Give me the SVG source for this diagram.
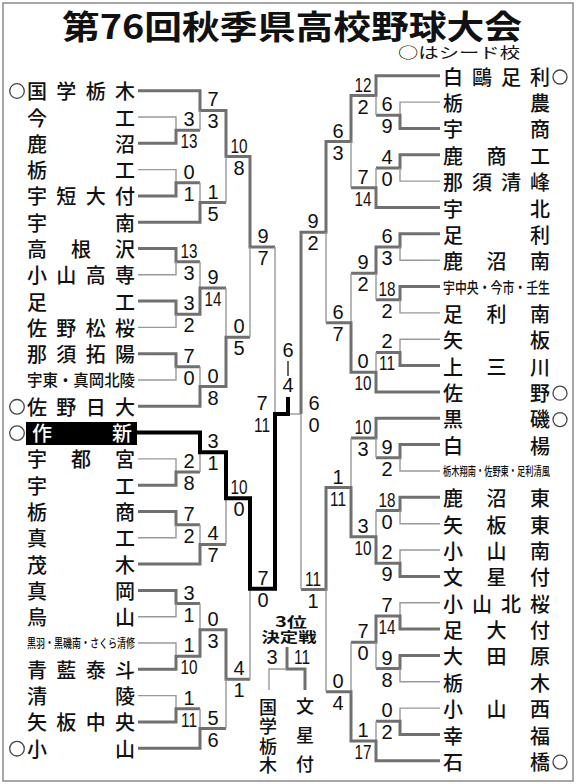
<svg xmlns="http://www.w3.org/2000/svg" width="576" height="784" viewBox="0 0 576 784">
<style>
.n{font-family:"Noto Sans CJK JP","Noto Sans",sans-serif;font-size:20px;font-weight:500;fill:#111}
.v{font-family:"Noto Sans CJK JP","Noto Sans",sans-serif;font-size:18px;font-weight:500;fill:#111;text-anchor:middle}
.s{font-family:"Liberation Sans",Arial,sans-serif;font-size:20px;fill:#111;text-anchor:middle}
.w{fill:none;stroke:#707070;stroke-width:3}
.l{fill:none;stroke:#999;stroke-width:1.4}
.c{fill:none;stroke:#000;stroke-width:4}
.seed{fill:none;stroke:#444;stroke-width:1.3}
.h{font-family:"Noto Sans CJK JP",sans-serif;font-weight:700;fill:#111}
</style>
<rect x="3" y="3" width="570" height="778" fill="#fff" stroke="#8a8a8a" stroke-width="1.5"/>
<text class="h" x="292" y="39" text-anchor="middle" textLength="460" lengthAdjust="spacingAndGlyphs" style="font-size:33px">第76回秋季県高校野球大会</text>
<text x="398" y="58" textLength="122" lengthAdjust="spacingAndGlyphs" style="font-family:'Noto Sans CJK JP',sans-serif;font-size:15px;fill:#111">○はシード校</text>

<g id="connectors">
<path class="w" d="M138,90.7H200V110.4H226V156.45H250V246.9H275"/><path class="l" d="M275,246.9V414"/>
<path class="l" d="M138,117H176V130.15"/>
<path class="w" d="M138,143.3H176V130.15H200"/><path class="l" d="M200,130.15V110.4"/>
<path class="l" d="M138,169.6H176V182.75"/>
<path class="w" d="M138,195.9H176V182.75H200"/><path class="l" d="M200,182.75V202.5"/>
<path class="w" d="M138,222.2H200V202.5H226"/><path class="l" d="M226,202.5V156.45"/>
<path class="w" d="M138,248.5H176V261.65H200"/><path class="l" d="M200,261.65V287.95"/>
<path class="l" d="M138,274.8H176V261.65"/>
<path class="w" d="M138,301.1H176V314.25H200V287.95H226"/><path class="l" d="M226,287.95V337.3"/>
<path class="l" d="M138,327.4H176V314.25"/>
<path class="w" d="M138,353.7H176V366.85H200"/><path class="l" d="M200,366.85V386.6"/>
<path class="l" d="M138,380H176V366.85"/>
<path class="w" d="M138,406.3H200V386.6H226V337.3H250"/><path class="l" d="M250,337.3V246.9"/>
<path class="l" d="M138,458.9H176V472.05"/>
<path class="w" d="M138,485.2H176V472.05H200"/><path class="l" d="M200,472.05V452.3"/>
<path class="w" d="M138,511.5H176V524.65H200"/><path class="l" d="M200,524.65V544.4"/>
<path class="l" d="M138,537.8H176V524.65"/>
<path class="w" d="M138,564.1H200V544.4H226"/><path class="l" d="M226,544.4V498.35"/>
<path class="w" d="M138,590.4H176V603.55H200"/><path class="l" d="M200,603.55V629.85"/>
<path class="l" d="M138,616.7H176V603.55"/>
<path class="l" d="M138,643H176V656.15"/>
<path class="w" d="M138,669.3H176V656.15H200V629.85H226V679.2H250"/><path class="l" d="M250,679.2V588.8"/>
<path class="l" d="M138,695.6H176V708.75"/>
<path class="w" d="M138,721.9H176V708.75H200"/><path class="l" d="M200,708.75V728.5"/>
<path class="w" d="M138,748.2H200V728.5H226"/><path class="l" d="M226,728.5V679.2"/>

<path class="w" d="M440,75.7H376V95.5H351V141.6H326V232.2H301V414"/><path class="l" d="M301,414H288"/>
<path class="l" d="M440,102.1H400V115.25"/>
<path class="w" d="M440,128.4H400V115.25H376"/><path class="l" d="M376,115.25V95.5"/>
<path class="w" d="M440,154.8H400V167.95H376"/><path class="l" d="M376,167.95V187.7"/>
<path class="l" d="M440,181.1H400V167.95"/>
<path class="w" d="M440,207.5H376V187.7H351"/><path class="l" d="M351,187.7V141.6"/>
<path class="w" d="M440,233.8H400V247H376V273.35H351"/><path class="l" d="M351,273.35V322.75"/>
<path class="l" d="M440,260.2H400V247"/>
<path class="w" d="M440,286.5H400V299.7H376"/><path class="l" d="M376,299.7V273.35"/>
<path class="l" d="M440,312.9H400V299.7"/>
<path class="l" d="M440,339.2H400V352.4"/>
<path class="w" d="M440,365.6H400V352.4H376"/><path class="l" d="M376,352.4V372.15"/>
<path class="w" d="M440,391.9H376V372.15H351V322.75H326"/><path class="l" d="M326,322.75V232.2"/>
<path class="w" d="M440,418.3H376V438.05H351"/><path class="l" d="M351,438.05V487.45"/>
<path class="w" d="M440,444.6H400V457.8H376"/><path class="l" d="M376,457.8V438.05"/>
<path class="l" d="M440,471H400V457.8"/>
<path class="w" d="M440,497.3H400V510.5H376"/><path class="l" d="M376,510.5V536.85"/>
<path class="l" d="M440,523.7H400V510.5"/>
<path class="l" d="M440,550H400V563.2"/>
<path class="w" d="M440,576.4H400V563.2H376V536.85H351V487.45H326V589.55H301"/><path class="l" d="M301,589.55V414"/>
<path class="l" d="M440,602.7H400V615.9"/>
<path class="w" d="M440,629.1H400V615.9H376V642.25H351"/><path class="l" d="M351,642.25V691.65"/>
<path class="w" d="M440,655.4H400V668.6H376"/><path class="l" d="M376,668.6V642.25"/>
<path class="l" d="M440,681.8H400V668.6"/>
<path class="l" d="M440,708.1H400V721.3"/>
<path class="w" d="M440,734.5H400V721.3H376"/><path class="l" d="M376,721.3V741.05"/>
<path class="w" d="M440,760.8H376V741.05H351V691.65H326"/><path class="l" d="M326,691.65V589.55"/>

<path class="c" d="M137,432.6H200V452.3H226V498.35H250V588.8H275V414H288V397"/>
<path d="M288,361V376" fill="none" stroke="#000" stroke-width="1.2"/>

<path class="w" d="M287,647V669H305V690"/>
<path class="l" d="M287,669H269V690"/>
</g>

<g id="scores" class="s">
<text x="189" y="126.2">3</text><text x="189" y="148.2" textLength="17" lengthAdjust="spacingAndGlyphs">13</text>
<text x="213" y="106.4">7</text><text x="213" y="128.4">3</text>
<text x="189" y="178.8">0</text><text x="189" y="200.8">1</text>
<text x="213" y="198.5">1</text><text x="213" y="220.5">5</text>
<text x="239" y="152.5" textLength="17" lengthAdjust="spacingAndGlyphs">10</text><text x="239" y="174.5">8</text>
<text x="189" y="257.7" textLength="17" lengthAdjust="spacingAndGlyphs">13</text><text x="189" y="279.7">3</text>
<text x="189" y="310.3">3</text><text x="189" y="332.3">2</text>
<text x="213" y="284">9</text><text x="213" y="306" textLength="17" lengthAdjust="spacingAndGlyphs">14</text>
<text x="189" y="362.9">7</text><text x="189" y="384.9">0</text>
<text x="213" y="382.6">0</text><text x="213" y="404.6">8</text>
<text x="239" y="333.3">0</text><text x="239" y="355.3">5</text>
<text x="263" y="242.9">9</text><text x="263" y="264.9">7</text>
<text x="189" y="468.1">2</text><text x="189" y="490.1">8</text>
<text x="213" y="448.3">3</text><text x="213" y="470.3">1</text>
<text x="189" y="520.7">7</text><text x="189" y="542.7">2</text>
<text x="213" y="540.4">4</text><text x="213" y="562.4">7</text>
<text x="239" y="494.4" textLength="17" lengthAdjust="spacingAndGlyphs">10</text><text x="239" y="516.4">0</text>
<text x="189" y="599.6">3</text><text x="189" y="621.6">1</text>
<text x="189" y="652.2">1</text><text x="189" y="674.2" textLength="17" lengthAdjust="spacingAndGlyphs">10</text>
<text x="213" y="625.9">0</text><text x="213" y="647.9">3</text>
<text x="189" y="704.8">1</text><text x="189" y="726.8" textLength="16" lengthAdjust="spacingAndGlyphs">11</text>
<text x="213" y="724.5">5</text><text x="213" y="746.5">6</text>
<text x="239" y="675.2">4</text><text x="239" y="697.2">1</text>
<text x="263" y="584.8">7</text><text x="263" y="606.8">0</text>
<text x="262" y="410">7</text><text x="262" y="432" textLength="16" lengthAdjust="spacingAndGlyphs">11</text>

<text x="387" y="111.3">6</text><text x="387" y="133.3">9</text>
<text x="363" y="91.5" textLength="17" lengthAdjust="spacingAndGlyphs">12</text><text x="363" y="113.5">2</text>
<text x="387" y="164">4</text><text x="387" y="186">0</text>
<text x="363" y="183.7">7</text><text x="363" y="205.7" textLength="17" lengthAdjust="spacingAndGlyphs">14</text>
<text x="338" y="137.6">6</text><text x="338" y="159.6">3</text>
<text x="387" y="243">6</text><text x="387" y="265">3</text>
<text x="387" y="295.7" textLength="17" lengthAdjust="spacingAndGlyphs">18</text><text x="387" y="317.7">2</text>
<text x="363" y="269.4">9</text><text x="363" y="291.4">2</text>
<text x="387" y="348.4">2</text><text x="387" y="370.4" textLength="16" lengthAdjust="spacingAndGlyphs">11</text>
<text x="363" y="368.2">0</text><text x="363" y="390.2" textLength="17" lengthAdjust="spacingAndGlyphs">10</text>
<text x="338" y="318.8">6</text><text x="338" y="340.8">7</text>
<text x="313" y="228.2">9</text><text x="313" y="250.2">2</text>
<text x="387" y="453.8">9</text><text x="387" y="475.8">2</text>
<text x="363" y="434.1" textLength="17" lengthAdjust="spacingAndGlyphs">10</text><text x="363" y="456.1">3</text>
<text x="387" y="506.5" textLength="17" lengthAdjust="spacingAndGlyphs">18</text><text x="387" y="528.5">0</text>
<text x="387" y="559.2">2</text><text x="387" y="581.2">9</text>
<text x="363" y="532.9">3</text><text x="363" y="554.9" textLength="17" lengthAdjust="spacingAndGlyphs">10</text>
<text x="338" y="483.5">1</text><text x="338" y="505.5" textLength="16" lengthAdjust="spacingAndGlyphs">11</text>
<text x="387" y="611.9">7</text><text x="387" y="633.9" textLength="17" lengthAdjust="spacingAndGlyphs">14</text>
<text x="387" y="664.6">9</text><text x="387" y="686.6">8</text>
<text x="363" y="638.3">7</text><text x="363" y="660.3">0</text>
<text x="387" y="717.3">0</text><text x="387" y="739.3">2</text>
<text x="363" y="737.1">1</text><text x="363" y="759.1" textLength="17" lengthAdjust="spacingAndGlyphs">17</text>
<text x="338" y="687.7">0</text><text x="338" y="709.7">4</text>
<text x="313" y="585.6" textLength="16" lengthAdjust="spacingAndGlyphs">11</text><text x="313" y="607.6">1</text>
<text x="314" y="410">6</text><text x="314" y="432">0</text>

<text x="288" y="357">6</text><text x="288" y="392">4</text>
<text x="272" y="664">3</text><text x="302" y="664" textLength="16" lengthAdjust="spacingAndGlyphs">11</text>
</g>

<g id="third-place-label">
<text class="h" x="291" y="627" text-anchor="middle" textLength="32" lengthAdjust="spacingAndGlyphs" style="font-size:14px">3位</text>
<text class="h" x="289" y="642" text-anchor="middle" textLength="55" lengthAdjust="spacingAndGlyphs" style="font-size:14px">決定戦</text>
</g>
<g id="third-kokugakutochigi">
<text class="v" x="268" y="713.5">国</text><text class="v" x="268" y="733">学</text><text class="v" x="268" y="752.5">栃</text><text class="v" x="268" y="772">木</text>
</g>
<g id="third-bunseifu">
<text class="v" x="305" y="712.5">文</text><text class="v" x="305" y="741.5">星</text><text class="v" x="305" y="770.5">付</text>
</g>

<g id="L01"><circle class="seed" cx="17" cy="91" r="7.3"/><text class="n" x="27" y="99.2" textLength="108" lengthAdjust="spacing">国学栃木</text></g>
<g id="L02"><text class="n" x="27" y="125.5" textLength="108" lengthAdjust="spacing">今工</text></g>
<g id="L03"><text class="n" x="27" y="151.8" textLength="108" lengthAdjust="spacing">鹿沼</text></g>
<g id="L04"><text class="n" x="27" y="178.1" textLength="108" lengthAdjust="spacing">栃工</text></g>
<g id="L05"><text class="n" x="27" y="204.4" textLength="108" lengthAdjust="spacing">宇短大付</text></g>
<g id="L06"><text class="n" x="27" y="230.7" textLength="108" lengthAdjust="spacing">宇南</text></g>
<g id="L07"><text class="n" x="27" y="257" textLength="108" lengthAdjust="spacing">高根沢</text></g>
<g id="L08"><text class="n" x="27" y="283.3" textLength="108" lengthAdjust="spacing">小山高専</text></g>
<g id="L09"><text class="n" x="27" y="309.6" textLength="108" lengthAdjust="spacing">足工</text></g>
<g id="L10"><text class="n" x="27" y="335.9" textLength="108" lengthAdjust="spacing">佐野松桜</text></g>
<g id="L11"><text class="n" x="27" y="362.2" textLength="108" lengthAdjust="spacing">那須拓陽</text></g>
<g id="L12"><text class="n" x="81" y="386.3" text-anchor="middle" textLength="108" lengthAdjust="spacingAndGlyphs" style="font-size:16px">宇東・真岡北陵</text></g>
<g id="L13"><circle class="seed" cx="17" cy="406.8" r="7.3"/><text class="n" x="27" y="414.8" textLength="108" lengthAdjust="spacing">佐野日大</text></g>
<g id="L14"><circle class="seed" cx="17" cy="433.1" r="7.3"/><rect x="26" y="422" width="111" height="23" fill="#000"/><text class="n" x="32" y="441.1" textLength="100" lengthAdjust="spacing" style="fill:#fff">作新</text></g>
<g id="L15"><text class="n" x="27" y="467.4" textLength="108" lengthAdjust="spacing">宇都宮</text></g>
<g id="L16"><text class="n" x="27" y="493.7" textLength="108" lengthAdjust="spacing">宇工</text></g>
<g id="L17"><text class="n" x="27" y="520" textLength="108" lengthAdjust="spacing">栃商</text></g>
<g id="L18"><text class="n" x="27" y="546.3" textLength="108" lengthAdjust="spacing">真工</text></g>
<g id="L19"><text class="n" x="27" y="572.6" textLength="108" lengthAdjust="spacing">茂木</text></g>
<g id="L20"><text class="n" x="27" y="598.9" textLength="108" lengthAdjust="spacing">真岡</text></g>
<g id="L21"><text class="n" x="27" y="625.2" textLength="108" lengthAdjust="spacing">烏山</text></g>
<g id="L22"><text class="n" x="81" y="648.3" text-anchor="middle" textLength="108" lengthAdjust="spacingAndGlyphs" style="font-size:12.5px">黒羽・黒磯南・さくら清修</text></g>
<g id="L23"><text class="n" x="27" y="677.8" textLength="108" lengthAdjust="spacing">青藍泰斗</text></g>
<g id="L24"><text class="n" x="27" y="704.1" textLength="108" lengthAdjust="spacing">清陵</text></g>
<g id="L25"><text class="n" x="27" y="730.4" textLength="108" lengthAdjust="spacing">矢板中央</text></g>
<g id="L26"><circle class="seed" cx="17" cy="748.7" r="7.3"/><text class="n" x="27" y="756.7" textLength="108" lengthAdjust="spacing">小山</text></g>

<g id="R01"><circle class="seed" cx="560" cy="77" r="7"/><text class="n" x="443" y="84.7" textLength="107" lengthAdjust="spacing">白鷗足利</text></g>
<g id="R02"><text class="n" x="443" y="111.1" textLength="107" lengthAdjust="spacing">栃農</text></g>
<g id="R03"><text class="n" x="443" y="137.4" textLength="107" lengthAdjust="spacing">宇商</text></g>
<g id="R04"><text class="n" x="443" y="163.8" textLength="107" lengthAdjust="spacing">鹿商工</text></g>
<g id="R05"><text class="n" x="443" y="190.1" textLength="107" lengthAdjust="spacing">那須清峰</text></g>
<g id="R06"><text class="n" x="443" y="216.5" textLength="107" lengthAdjust="spacing">宇北</text></g>
<g id="R07"><text class="n" x="443" y="242.8" textLength="107" lengthAdjust="spacing">足利</text></g>
<g id="R08"><text class="n" x="443" y="269.2" textLength="107" lengthAdjust="spacing">鹿沼南</text></g>
<g id="R09"><text class="n" x="550" y="292.8" text-anchor="end" textLength="107" lengthAdjust="spacingAndGlyphs" style="font-size:15px">宇中央・今市・壬生</text></g>
<g id="R10"><text class="n" x="443" y="321.9" textLength="107" lengthAdjust="spacing">足利南</text></g>
<g id="R11"><text class="n" x="443" y="348.2" textLength="107" lengthAdjust="spacing">矢板</text></g>
<g id="R12"><text class="n" x="443" y="374.6" textLength="107" lengthAdjust="spacing">上三川</text></g>
<g id="R13"><circle class="seed" cx="560" cy="393.2" r="7"/><text class="n" x="443" y="400.9" textLength="107" lengthAdjust="spacing">佐野</text></g>
<g id="R14"><circle class="seed" cx="560" cy="419.6" r="7"/><text class="n" x="443" y="427.3" textLength="107" lengthAdjust="spacing">黒磯</text></g>
<g id="R15"><text class="n" x="443" y="453.6" textLength="107" lengthAdjust="spacing">白楊</text></g>
<g id="R16"><text class="n" x="550" y="476.3" text-anchor="end" textLength="107" lengthAdjust="spacingAndGlyphs" style="font-size:12.5px">栃木翔南・佐野東・足利清風</text></g>
<g id="R17"><text class="n" x="443" y="506.3" textLength="107" lengthAdjust="spacing">鹿沼東</text></g>
<g id="R18"><text class="n" x="443" y="532.7" textLength="107" lengthAdjust="spacing">矢板東</text></g>
<g id="R19"><text class="n" x="443" y="559" textLength="107" lengthAdjust="spacing">小山南</text></g>
<g id="R20"><text class="n" x="443" y="585.4" textLength="107" lengthAdjust="spacing">文星付</text></g>
<g id="R21"><text class="n" x="443" y="611.7" textLength="107" lengthAdjust="spacing">小山北桜</text></g>
<g id="R22"><text class="n" x="443" y="638.1" textLength="107" lengthAdjust="spacing">足大付</text></g>
<g id="R23"><text class="n" x="443" y="664.4" textLength="107" lengthAdjust="spacing">大田原</text></g>
<g id="R24"><text class="n" x="443" y="690.8" textLength="107" lengthAdjust="spacing">栃木</text></g>
<g id="R25"><text class="n" x="443" y="717.1" textLength="107" lengthAdjust="spacing">小山西</text></g>
<g id="R26"><text class="n" x="443" y="743.5" textLength="107" lengthAdjust="spacing">幸福</text></g>
<g id="R27"><circle class="seed" cx="560" cy="762.1" r="7"/><text class="n" x="443" y="769.8" textLength="107" lengthAdjust="spacing">石橋</text></g>
</svg>
